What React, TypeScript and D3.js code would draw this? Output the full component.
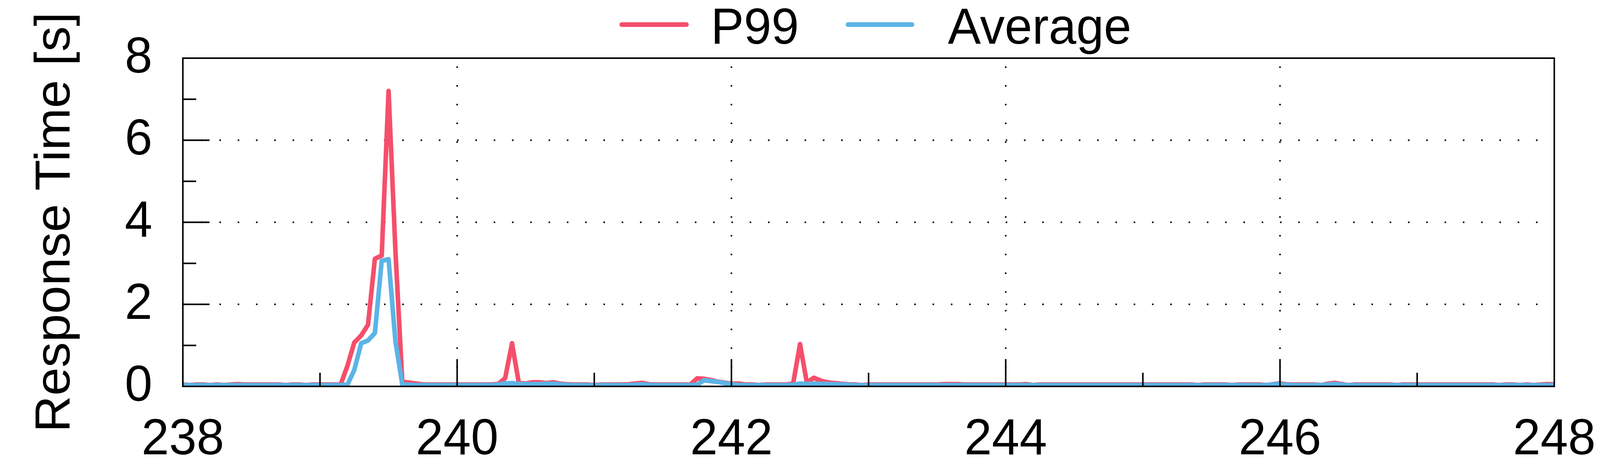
import React, { useMemo } from "react";
import * as d3 from "d3";

const width = 4200;
const height = 1176;

// plot area (gnuplot-like layout)
const plotLeft = 480;
const plotRight = 4080;
const plotTop = 149;
const plotBottom = 990;

const xDomain = [238, 248];
const yDomain = [0, 8];
const xMajorTicks = [238, 240, 242, 244, 246, 248];
const xMinorTicks = [239, 241, 243, 245, 247];
const yMajorTicks = [0, 2, 4, 6, 8];
const yMinorTicks = [1, 3, 5, 7];
const xGrid = [240, 242, 244, 246];
const yGrid = [2, 4, 6];

// samples every 0.05 s from 238 s
const sampleStart = 238;
const sampleStep = 0.05;

// P99 response time [s]
const p99 = [
    0.045, 0.03, 0.045, 0.045, 0.03, 0.045, 0.03, 0.045, 0.055, 0.045,
    0.045, 0.045, 0.045, 0.045, 0.045, 0.03, 0.045, 0.045, 0.03, 0.045,
    0.045, 0.045, 0.045, 0.04, 0.5, 1.07, 1.24, 1.5, 3.11, 3.19,
    7.2, 3.3, 0.12, 0.09, 0.07, 0.045, 0.045, 0.045, 0.045, 0.045,
    0.045, 0.045, 0.045, 0.045, 0.045, 0.045, 0.06, 0.2, 1.05, 0.08,
    0.07, 0.1, 0.1, 0.08, 0.1, 0.068, 0.05, 0.045, 0.045, 0.045,
    0.03, 0.045, 0.045, 0.045, 0.045, 0.05, 0.07, 0.085, 0.05, 0.045,
    0.045, 0.045, 0.045, 0.045, 0.045, 0.195, 0.185, 0.155, 0.115, 0.09,
    0.065, 0.07, 0.045, 0.045, 0.03, 0.045, 0.045, 0.045, 0.045, 0.07,
    1.03, 0.09, 0.21, 0.14, 0.1, 0.08, 0.065, 0.05, 0.045, 0.03,
    0.045, 0.045, 0.045, 0.045, 0.045, 0.045, 0.045, 0.045, 0.045, 0.045,
    0.045, 0.055, 0.055, 0.055, 0.045, 0.045, 0.045, 0.045, 0.045, 0.045,
    0.045, 0.045, 0.045, 0.055, 0.03, 0.045, 0.045, 0.045, 0.045, 0.045,
    0.045, 0.045, 0.045, 0.045, 0.045, 0.045, 0.045, 0.045, 0.045, 0.045,
    0.045, 0.045, 0.045, 0.045, 0.045, 0.045, 0.045, 0.045, 0.03, 0.045,
    0.045, 0.045, 0.045, 0.03, 0.045, 0.045, 0.045, 0.045, 0.03, 0.052,
    0.075, 0.045, 0.045, 0.045, 0.045, 0.045, 0.03, 0.065, 0.085, 0.055,
    0.03, 0.045, 0.045, 0.045, 0.045, 0.045, 0.045, 0.03, 0.045, 0.045,
    0.045, 0.045, 0.045, 0.045, 0.045, 0.045, 0.045, 0.045, 0.045, 0.045,
    0.045, 0.045, 0.03, 0.045, 0.045, 0.03, 0.045, 0.03, 0.045, 0.055,
    0.05,
];

// average response time [s]
const average = [
    0.03, 0.03, 0.03, 0.03, 0.03, 0.03, 0.03, 0.03, 0.03, 0.03,
    0.03, 0.03, 0.03, 0.03, 0.03, 0.03, 0.03, 0.03, 0.03, 0.03,
    0.03, 0.03, 0.03, 0.03, 0.04, 0.4, 1.05, 1.12, 1.3, 3.06,
    3.1, 1.1, 0.05, 0.04, 0.03, 0.03, 0.03, 0.03, 0.03, 0.03,
    0.03, 0.03, 0.03, 0.03, 0.03, 0.03, 0.045, 0.075, 0.078, 0.06,
    0.058, 0.055, 0.055, 0.065, 0.065, 0.05, 0.035, 0.03, 0.03, 0.03,
    0.03, 0.03, 0.03, 0.03, 0.03, 0.03, 0.04, 0.05, 0.035, 0.03,
    0.03, 0.03, 0.03, 0.03, 0.03, 0.04, 0.15, 0.13, 0.11, 0.08,
    0.055, 0.035, 0.03, 0.03, 0.03, 0.03, 0.03, 0.03, 0.03, 0.04,
    0.068, 0.058, 0.07, 0.062, 0.06, 0.052, 0.05, 0.04, 0.03, 0.03,
    0.03, 0.03, 0.03, 0.03, 0.03, 0.03, 0.03, 0.03, 0.03, 0.03,
    0.03, 0.03, 0.03, 0.03, 0.03, 0.03, 0.03, 0.03, 0.03, 0.03,
    0.03, 0.03, 0.03, 0.03, 0.03, 0.03, 0.03, 0.03, 0.03, 0.03,
    0.03, 0.03, 0.03, 0.03, 0.03, 0.03, 0.03, 0.03, 0.03, 0.03,
    0.03, 0.03, 0.03, 0.03, 0.03, 0.03, 0.03, 0.03, 0.03, 0.03,
    0.03, 0.03, 0.03, 0.03, 0.03, 0.03, 0.03, 0.03, 0.03, 0.045,
    0.065, 0.035, 0.03, 0.03, 0.03, 0.03, 0.03, 0.045, 0.06, 0.04,
    0.03, 0.03, 0.03, 0.03, 0.03, 0.03, 0.03, 0.03, 0.03, 0.03,
    0.03, 0.03, 0.03, 0.03, 0.03, 0.03, 0.03, 0.03, 0.03, 0.03,
    0.03, 0.03, 0.03, 0.03, 0.03, 0.03, 0.03, 0.03, 0.03, 0.03,
    0.03,
];

const labels = ["P99", "Average"];
const colors = ["#f54f6b", "#5bb4e6"];

const fontFamily = "'Liberation Sans', Arial, Helvetica, sans-serif";
const fontSize = 130;

export default function App() {
    const x = useMemo(() => d3.scaleLinear(xDomain, [plotLeft, plotRight]), []);
    const y = useMemo(() => d3.scaleLinear(yDomain, [plotBottom, plotTop]), []);

    const line = useMemo(
        () =>
            d3
                .line<number>()
                .x((_d, i) => x(sampleStart + i * sampleStep))
                .y((d) => y(d)),
        [x, y]
    );

    const series = [p99, average];

    // the svg is sized to the viewport, the viewBox keeps the 4200x1176 layout
    return (
        <svg
            viewBox={`0 0 ${width} ${height}`}
            preserveAspectRatio="none"
            style={{
                position: "fixed",
                top: 0,
                left: 0,
                width: "100vw",
                height: "100vh",
                display: "block",
                background: "#fff",
            }}
            fontFamily={fontFamily}
        >
            <defs>
                <clipPath id="plotClip">
                    <rect x={plotLeft} y={plotTop} width={plotRight - plotLeft} height={plotBottom - plotTop} />
                </clipPath>
            </defs>

            {/* dotted grid */}
            {yGrid.map((t) => (
                <line
                    key={`gy${t}`}
                    x1={plotLeft}
                    x2={plotRight}
                    y1={y(t)}
                    y2={y(t)}
                    stroke="#000"
                    strokeWidth={4}
                    strokeDasharray="4 44"
                />
            ))}
            {xGrid.map((t) => (
                <line
                    key={`gx${t}`}
                    x1={x(t)}
                    x2={x(t)}
                    y1={plotBottom}
                    y2={plotTop}
                    stroke="#000"
                    strokeWidth={4}
                    strokeDasharray="4 44"
                />
            ))}

            {/* series: P99 first, average on top */}
            <g clipPath="url(#plotClip)">
                {series.map((s, i) => (
                    <path
                        key={labels[i]}
                        d={line(s) || ""}
                        fill="none"
                        stroke={colors[i]}
                        strokeWidth={12}
                        strokeLinejoin="round"
                        strokeLinecap="round"
                    />
                ))}
            </g>

            {/* ticks (inward, no mirror) */}
            {yMajorTicks.map((t) => (
                <line key={`ym${t}`} x1={plotLeft} x2={plotLeft + 70} y1={y(t)} y2={y(t)} stroke="#000" strokeWidth={4} />
            ))}
            {yMinorTicks.map((t) => (
                <line key={`yn${t}`} x1={plotLeft} x2={plotLeft + 35} y1={y(t)} y2={y(t)} stroke="#000" strokeWidth={4} />
            ))}
            {xMajorTicks.map((t) => (
                <line key={`xm${t}`} x1={x(t)} x2={x(t)} y1={plotBottom} y2={plotBottom - 70} stroke="#000" strokeWidth={4} />
            ))}
            {xMinorTicks.map((t) => (
                <line key={`xn${t}`} x1={x(t)} x2={x(t)} y1={plotBottom} y2={plotBottom - 35} stroke="#000" strokeWidth={4} />
            ))}

            {/* border */}
            <rect
                x={plotLeft}
                y={plotTop}
                width={plotRight - plotLeft}
                height={plotBottom - plotTop}
                fill="none"
                stroke="#000"
                strokeWidth={4}
            />

            {/* tick labels */}
            {yMajorTicks.map((t) => (
                <text key={`yl${t}`} x={plotLeft - 80} y={y(t) + 37} textAnchor="end" fontSize={fontSize} fill="#000">
                    {t}
                </text>
            ))}
            {xMajorTicks.map((t) => (
                <text key={`xl${t}`} x={x(t)} y={1164} textAnchor="middle" fontSize={fontSize} fill="#000">
                    {t}
                </text>
            ))}

            {/* y axis title */}
            <text
                transform={`translate(183, ${(plotTop + plotBottom) / 2}) rotate(-90)`}
                textAnchor="middle"
                fontSize={fontSize}
                fill="#000"
            >
                Response Time [s]
            </text>

            {/* legend */}
            <g>
                <line x1={1632} x2={1802} y1={63} y2={63} stroke={colors[0]} strokeWidth={12} strokeLinecap="round" />
                <text x={1866} y={112} fontSize={fontSize} fill="#000">
                    {labels[0]}
                </text>
                <line x1={2226} x2={2394} y1={63} y2={63} stroke={colors[1]} strokeWidth={12} strokeLinecap="round" />
                <text x={2488} y={112} fontSize={fontSize} fill="#000">
                    {labels[1]}
                </text>
            </g>
        </svg>
    );
}
